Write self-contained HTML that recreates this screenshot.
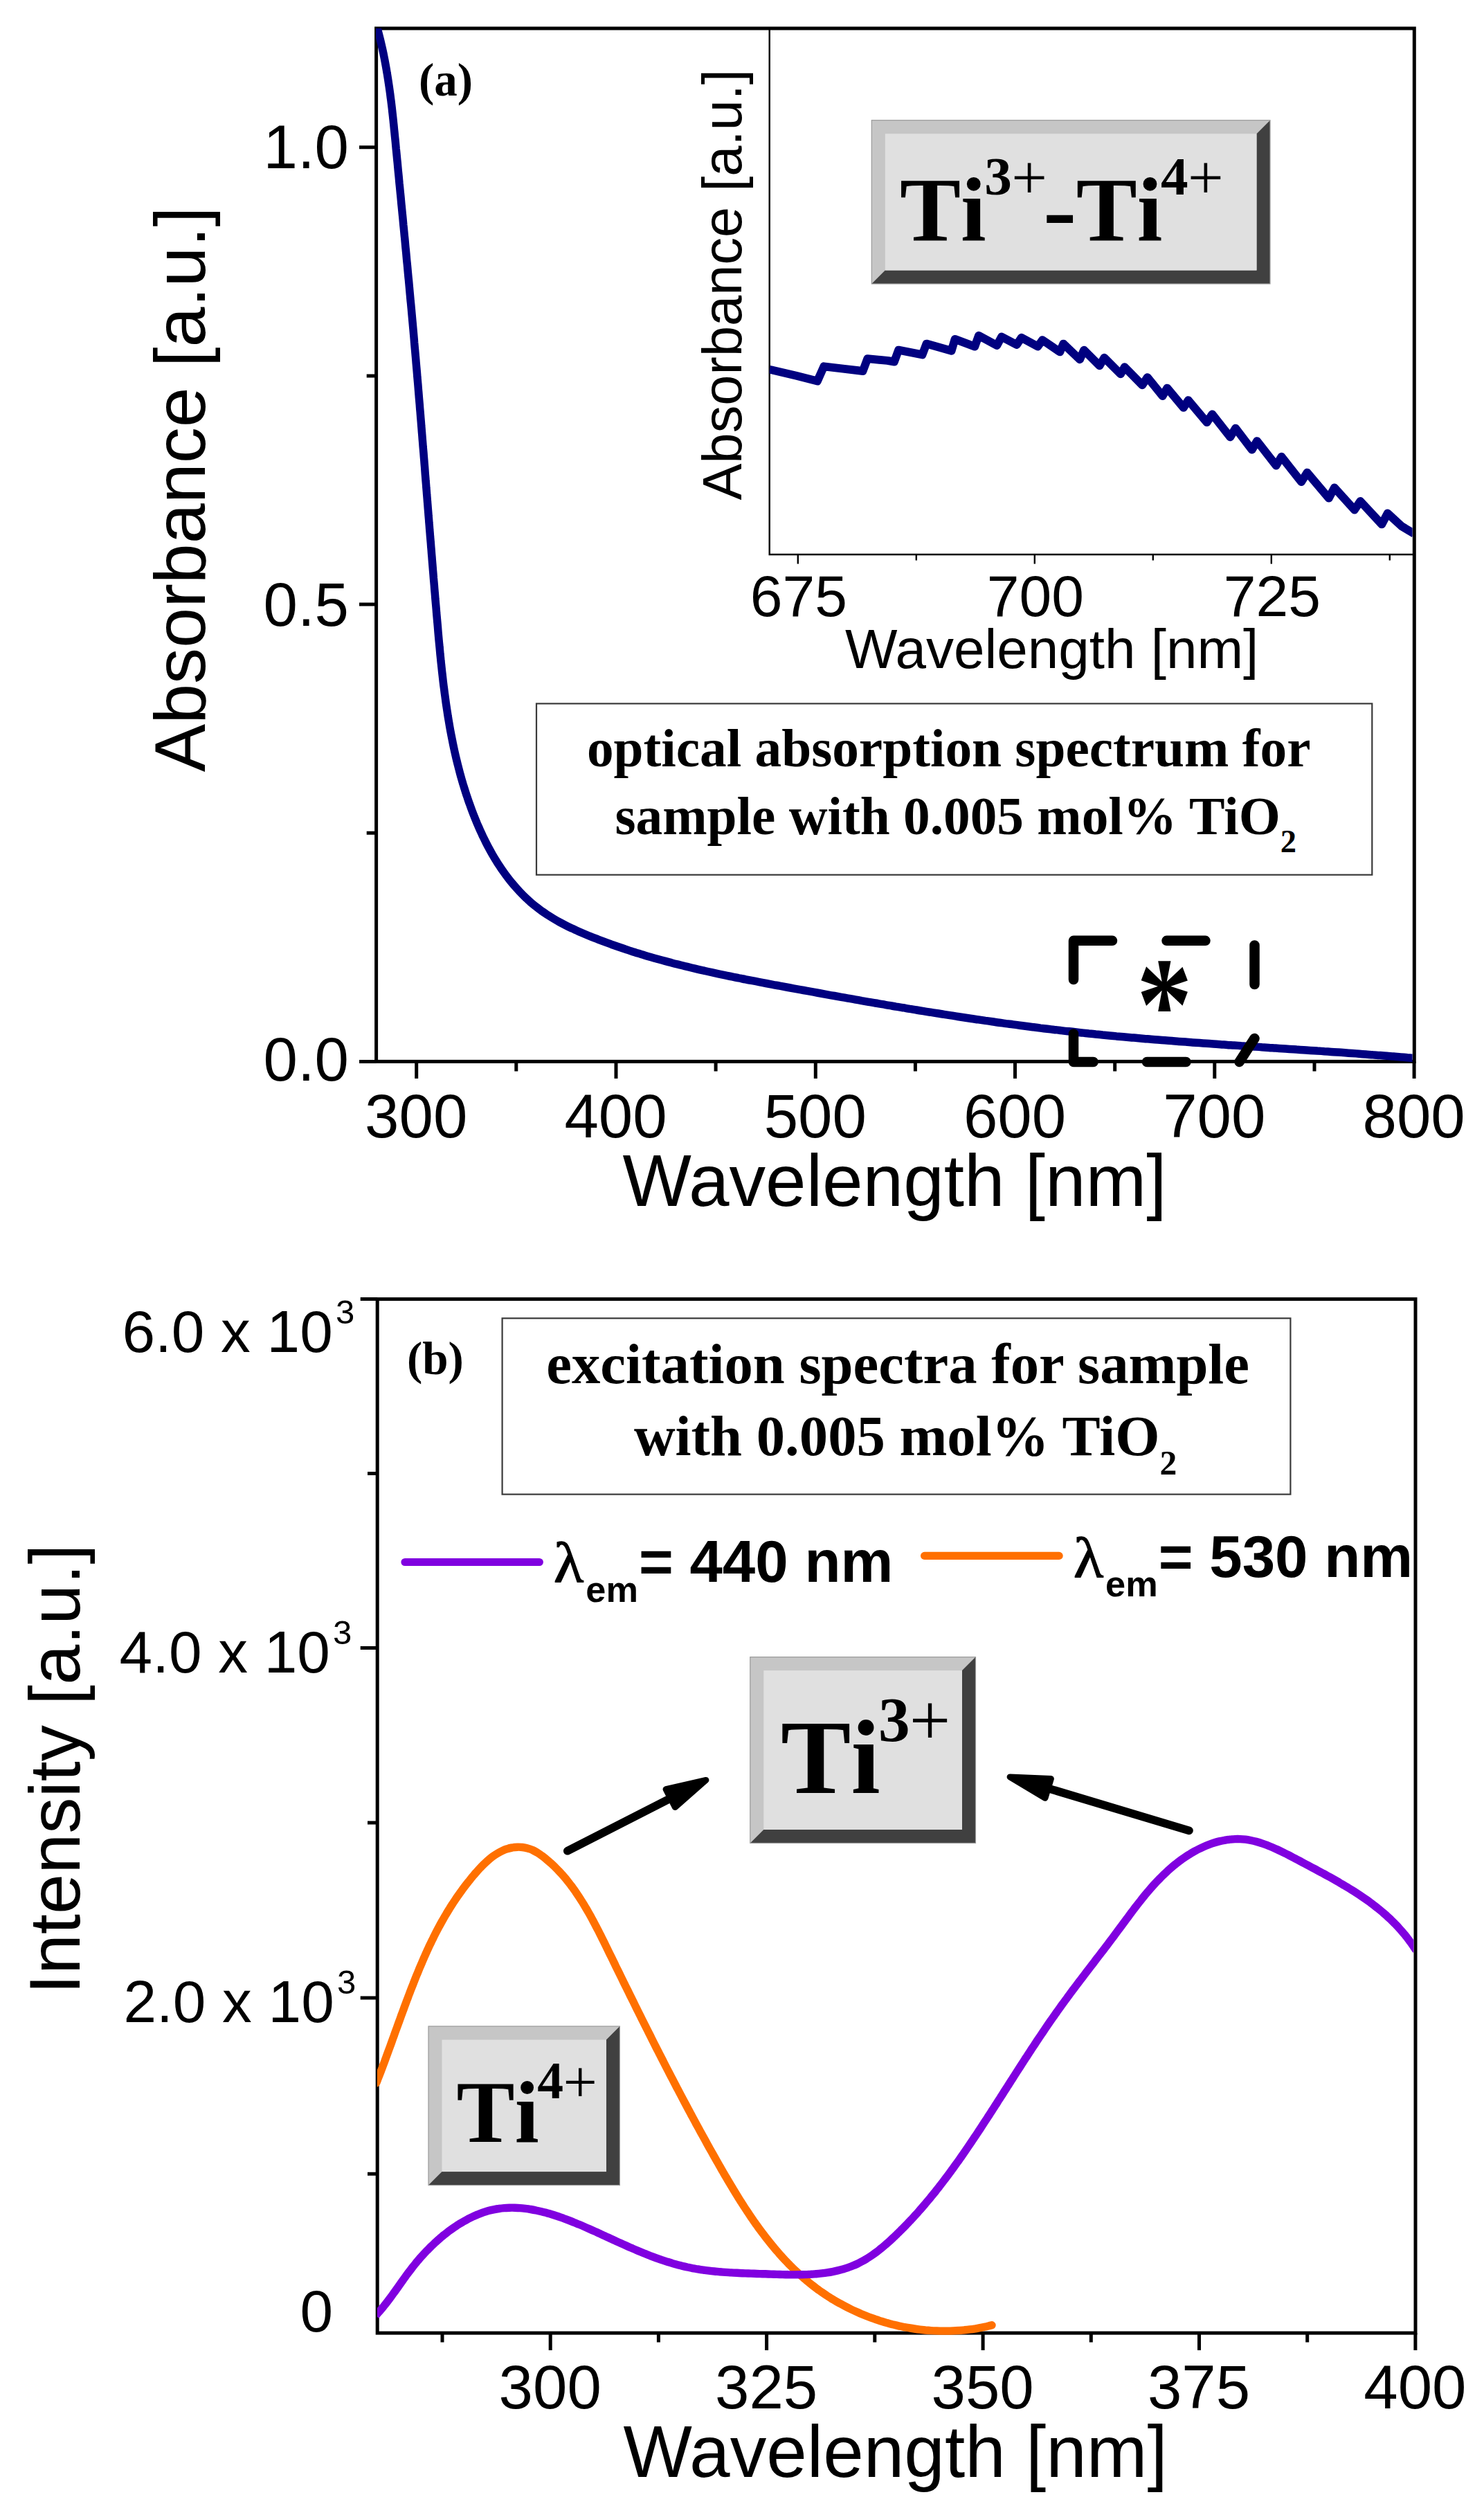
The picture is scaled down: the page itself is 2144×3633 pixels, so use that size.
<!DOCTYPE html>
<html lang="en"><head><meta charset="utf-8"><title>Optical absorption and excitation spectra</title>
<style>html,body{margin:0;padding:0;background:#fff}svg{display:block}text{fill:#000}.s{font-family:"Liberation Sans", Arial, Helvetica, sans-serif}.t{font-family:"Liberation Serif", "Times New Roman", Times, serif;font-weight:bold}.sb{font-family:"Liberation Sans", Arial, Helvetica, sans-serif;font-weight:bold}.nk{font-kerning:none}</style></head><body>
<svg width="2144" height="3633" viewBox="0 0 2144 3633">
<rect width="2144" height="3633" fill="#fff"/>
<rect x="543.6" y="41.0" width="1499.7" height="1492.4" fill="none" stroke="#000" stroke-width="5.0"/>
<path d="M601.7 1533.4 V1558.0M890.0 1533.4 V1558.0M1178.3 1533.4 V1558.0M1466.5 1533.4 V1558.0M1754.8 1533.4 V1558.0M2043.1 1533.4 V1558.0M745.8 1533.4 V1547.6M1034.1 1533.4 V1547.6M1322.4 1533.4 V1547.6M1610.7 1533.4 V1547.6M1899.0 1533.4 V1547.6M543.6 1533.4 H519.0M543.6 873.1 H519.0M543.6 212.7 H519.0M543.6 1203.2 H529.7M543.6 542.9 H529.7" stroke="#000" stroke-width="5" fill="none"/>
<clipPath id="ca"><rect x="543.1" y="41.0" width="1497.5" height="1495.1"/></clipPath>
<path d="M541.1 27.0C541.5 28.6 543.0 33.5 543.9 36.7C544.9 39.9 545.8 43.2 546.6 46.4C547.5 49.7 548.3 52.9 549.1 56.2C549.9 59.4 550.7 62.7 551.4 66.0C552.2 69.2 552.9 72.5 553.6 75.8C554.3 79.0 554.9 82.3 555.6 85.6C556.2 88.9 556.8 92.2 557.4 95.4C558.0 98.7 558.6 102.0 559.1 105.3C559.7 108.6 560.2 111.9 560.7 115.2C561.2 118.5 561.7 121.8 562.2 125.1C562.7 128.4 563.1 131.7 563.6 135.0C564.0 138.4 564.4 141.7 564.9 145.0C565.3 148.3 565.7 151.6 566.1 154.9C566.5 158.3 566.8 161.6 567.2 164.9C567.6 168.2 567.9 171.6 568.3 174.9C568.6 178.2 569.0 181.5 569.3 184.9C569.6 188.2 570.0 191.5 570.3 194.9C570.6 198.2 571.0 201.5 571.3 204.8C571.6 208.2 571.9 211.5 572.2 214.8C572.6 218.2 572.9 221.5 573.2 224.8C573.5 228.2 573.8 231.5 574.2 234.8C574.5 238.2 574.8 241.5 575.1 244.8C575.4 248.2 575.8 251.5 576.1 254.8C576.4 258.2 576.7 261.5 577.0 264.8C577.4 268.2 577.7 271.5 578.0 274.8C578.3 278.2 578.7 281.5 579.0 284.8C579.3 288.2 579.6 291.5 579.9 294.8C580.3 298.2 580.6 301.5 580.9 304.8C581.2 308.2 581.6 311.5 581.9 314.8C582.2 318.2 582.5 321.5 582.8 324.8C583.2 328.2 583.5 331.5 583.8 334.8C584.1 338.2 584.4 341.5 584.8 344.8C585.1 348.2 585.4 351.5 585.7 354.9C586.0 358.2 586.4 361.5 586.7 364.9C587.0 368.2 587.3 371.5 587.6 374.9C587.9 378.2 588.3 381.5 588.6 384.9C588.9 388.2 589.2 391.5 589.5 394.9C589.8 398.2 590.1 401.5 590.5 404.9C590.8 408.2 591.1 411.5 591.4 414.9C591.7 418.2 592.0 421.5 592.3 424.9C592.6 428.2 592.9 431.5 593.2 434.9C593.6 438.2 593.9 441.5 594.2 444.9C594.5 448.2 594.8 451.5 595.1 454.9C595.4 458.2 595.7 461.5 596.0 464.9C596.3 468.2 596.6 471.5 596.9 474.9C597.2 478.2 597.5 481.5 597.8 484.9C598.1 488.2 598.4 491.5 598.6 494.9C598.9 498.2 599.2 501.5 599.5 504.9C599.8 508.2 600.1 511.5 600.4 514.9C600.7 518.2 601.0 521.5 601.2 524.8C601.5 528.2 601.8 531.5 602.1 534.8C602.4 538.2 602.7 541.5 602.9 544.8C603.2 548.2 603.5 551.5 603.8 554.8C604.1 558.2 604.3 561.5 604.6 564.8C604.9 568.2 605.2 571.5 605.4 574.8C605.7 578.2 606.0 581.5 606.3 584.8C606.5 588.2 606.8 591.5 607.1 594.8C607.4 598.1 607.6 601.5 607.9 604.8C608.2 608.1 608.5 611.5 608.7 614.8C609.0 618.1 609.3 621.5 609.5 624.8C609.8 628.1 610.1 631.5 610.3 634.8C610.6 638.1 610.9 641.5 611.1 644.8C611.4 648.1 611.7 651.5 612.0 654.8C612.2 658.1 612.5 661.5 612.8 664.8C613.0 668.1 613.3 671.5 613.6 674.8C613.8 678.1 614.1 681.5 614.3 684.8C614.6 688.1 614.9 691.5 615.1 694.8C615.4 698.1 615.7 701.5 615.9 704.8C616.2 708.1 616.5 711.5 616.7 714.8C617.0 718.1 617.3 721.5 617.5 724.8C617.8 728.1 618.1 731.5 618.3 734.8C618.6 738.1 618.9 741.5 619.1 744.8C619.4 748.1 619.7 751.5 619.9 754.8C620.2 758.1 620.5 761.5 620.7 764.8C621.0 768.1 621.3 771.5 621.5 774.8C621.8 778.2 622.1 781.5 622.4 784.8C622.6 788.2 622.9 791.5 623.2 794.8C623.4 798.2 623.7 801.5 624.0 804.8C624.2 808.2 624.5 811.5 624.8 814.9C625.1 818.2 625.3 821.5 625.6 824.9C625.9 828.2 626.2 831.6 626.4 834.9C626.7 838.2 627.0 841.6 627.3 844.9C627.5 848.3 627.8 851.6 628.1 854.9C628.4 858.3 628.7 861.6 628.9 865.0C629.2 868.3 629.5 871.6 629.8 875.0C630.1 878.3 630.4 881.7 630.6 885.0C630.9 888.3 631.2 891.7 631.5 895.0C631.8 898.4 632.1 901.7 632.4 905.1C632.7 908.4 632.9 911.8 633.2 915.1C633.5 918.4 633.8 921.8 634.1 925.1C634.4 928.5 634.8 931.8 635.1 935.2C635.4 938.5 635.7 941.8 636.0 945.2C636.4 948.5 636.7 951.9 637.0 955.2C637.4 958.5 637.7 961.9 638.1 965.2C638.4 968.5 638.8 971.9 639.2 975.2C639.6 978.5 639.9 981.9 640.3 985.2C640.7 988.5 641.1 991.8 641.6 995.2C642.0 998.5 642.4 1001.8 642.9 1005.1C643.3 1008.4 643.8 1011.8 644.2 1015.1C644.7 1018.4 645.2 1021.7 645.7 1025.0C646.2 1028.3 646.7 1031.6 647.2 1034.9C647.8 1038.2 648.3 1041.5 648.9 1044.8C649.4 1048.1 650.0 1051.4 650.6 1054.7C651.2 1057.9 651.8 1061.2 652.5 1064.5C653.1 1067.8 653.8 1071.0 654.4 1074.3C655.1 1077.6 655.8 1080.8 656.5 1084.1C657.2 1087.4 658.0 1090.6 658.7 1093.9C659.5 1097.1 660.3 1100.4 661.1 1103.6C661.9 1106.8 662.7 1110.1 663.6 1113.3C664.4 1116.5 665.3 1119.7 666.2 1123.0C667.1 1126.2 668.1 1129.4 669.0 1132.6C670.0 1135.8 671.0 1139.0 672.0 1142.2C673.0 1145.4 674.0 1148.6 675.1 1151.7C676.2 1154.9 677.2 1158.1 678.4 1161.2C679.5 1164.4 680.7 1167.6 681.8 1170.7C683.0 1173.9 684.2 1177.0 685.5 1180.2C686.7 1183.3 688.0 1186.4 689.3 1189.5C690.7 1192.6 692.0 1195.7 693.4 1198.8C694.8 1201.9 696.2 1204.9 697.6 1208.0C699.1 1211.0 700.6 1214.1 702.1 1217.1C703.6 1220.1 705.2 1223.0 706.8 1226.0C708.4 1229.0 710.0 1231.9 711.7 1234.8C713.4 1237.7 715.1 1240.6 716.9 1243.4C718.6 1246.2 720.4 1249.1 722.3 1251.8C724.1 1254.6 726.0 1257.3 727.9 1260.0C729.8 1262.8 731.8 1265.4 733.8 1268.0C735.8 1270.7 737.9 1273.3 740.0 1275.8C742.1 1278.3 744.3 1280.8 746.5 1283.3C748.7 1285.8 750.9 1288.2 753.2 1290.5C755.5 1292.9 757.8 1295.2 760.2 1297.4C762.6 1299.7 765.0 1301.9 767.5 1304.1C770.0 1306.2 772.6 1308.3 775.2 1310.3C777.8 1312.4 780.4 1314.3 783.1 1316.3C785.8 1318.2 788.6 1320.0 791.3 1321.8C794.1 1323.6 797.0 1325.4 799.9 1327.1C802.7 1328.8 805.7 1330.5 808.6 1332.1C811.6 1333.7 814.5 1335.2 817.6 1336.8C820.6 1338.3 823.6 1339.8 826.7 1341.2C829.7 1342.7 832.8 1344.1 835.9 1345.5C839.0 1346.8 842.2 1348.2 845.3 1349.5C848.4 1350.8 851.6 1352.1 854.7 1353.4C857.9 1354.6 861.1 1355.9 864.2 1357.1C867.4 1358.3 870.6 1359.5 873.7 1360.7C876.9 1361.9 880.1 1363.0 883.3 1364.2C886.4 1365.3 889.6 1366.4 892.8 1367.5C896.0 1368.6 899.2 1369.7 902.4 1370.8C905.6 1371.8 908.8 1372.9 912.0 1373.9C915.2 1374.9 918.4 1376.0 921.6 1377.0C924.8 1378.0 928.0 1378.9 931.2 1379.9C934.4 1380.9 937.6 1381.8 940.8 1382.7C944.1 1383.7 947.3 1384.6 950.5 1385.5C953.7 1386.4 956.9 1387.3 960.2 1388.1C963.4 1389.0 966.6 1389.9 969.9 1390.7C973.1 1391.6 976.3 1392.4 979.6 1393.2C982.8 1394.0 986.0 1394.9 989.3 1395.7C992.5 1396.4 995.8 1397.2 999.0 1398.0C1002.3 1398.8 1005.5 1399.5 1008.8 1400.3C1012.0 1401.1 1015.3 1401.8 1018.5 1402.5C1021.8 1403.3 1025.0 1404.0 1028.3 1404.7C1031.5 1405.4 1034.8 1406.1 1038.1 1406.8C1041.3 1407.5 1044.6 1408.2 1047.9 1408.9C1051.1 1409.6 1054.4 1410.2 1057.7 1410.9C1060.9 1411.6 1064.2 1412.2 1067.5 1412.9C1070.7 1413.5 1074.0 1414.2 1077.3 1414.8C1080.6 1415.5 1083.8 1416.1 1087.1 1416.7C1090.4 1417.4 1093.7 1418.0 1097.0 1418.6C1100.2 1419.3 1103.5 1419.9 1106.8 1420.5C1110.1 1421.1 1113.4 1421.7 1116.6 1422.3C1119.9 1422.9 1123.2 1423.6 1126.5 1424.2C1129.8 1424.8 1133.1 1425.4 1136.3 1426.0C1139.6 1426.6 1142.9 1427.2 1146.2 1427.8C1149.5 1428.4 1152.8 1429.0 1156.1 1429.6C1159.4 1430.2 1162.6 1430.8 1165.9 1431.4C1169.2 1432.0 1172.5 1432.6 1175.8 1433.2C1179.1 1433.8 1182.4 1434.4 1185.7 1435.0C1189.0 1435.6 1192.3 1436.2 1195.6 1436.8C1198.8 1437.4 1202.1 1438.0 1205.4 1438.5C1208.7 1439.1 1212.0 1439.7 1215.3 1440.3C1218.6 1440.9 1221.9 1441.5 1225.2 1442.1C1228.5 1442.7 1231.8 1443.2 1235.1 1443.8C1238.4 1444.4 1241.7 1445.0 1245.0 1445.6C1248.3 1446.1 1251.6 1446.7 1254.9 1447.3C1258.2 1447.9 1261.5 1448.4 1264.8 1449.0C1268.1 1449.6 1271.4 1450.1 1274.7 1450.7C1278.0 1451.3 1281.3 1451.8 1284.6 1452.4C1287.9 1453.0 1291.2 1453.5 1294.5 1454.1C1297.8 1454.6 1301.1 1455.2 1304.4 1455.7C1307.7 1456.3 1311.0 1456.8 1314.3 1457.4C1317.6 1457.9 1320.9 1458.5 1324.3 1459.0C1327.6 1459.6 1330.9 1460.1 1334.2 1460.6C1337.5 1461.2 1340.8 1461.7 1344.1 1462.2C1347.4 1462.8 1350.7 1463.3 1354.0 1463.8C1357.3 1464.3 1360.6 1464.9 1364.0 1465.4C1367.3 1465.9 1370.6 1466.4 1373.9 1466.9C1377.2 1467.4 1380.5 1468.0 1383.8 1468.5C1387.1 1469.0 1390.4 1469.5 1393.8 1470.0C1397.1 1470.5 1400.4 1471.0 1403.7 1471.5C1407.0 1472.0 1410.3 1472.4 1413.6 1472.9C1417.0 1473.4 1420.3 1473.9 1423.6 1474.4C1426.9 1474.8 1430.2 1475.3 1433.5 1475.8C1436.9 1476.3 1440.2 1476.7 1443.5 1477.2C1446.8 1477.7 1450.1 1478.1 1453.4 1478.6C1456.8 1479.0 1460.1 1479.5 1463.4 1479.9C1466.7 1480.4 1470.0 1480.8 1473.4 1481.2C1476.7 1481.7 1480.0 1482.1 1483.3 1482.5C1486.6 1483.0 1490.0 1483.4 1493.3 1483.8C1496.6 1484.2 1499.9 1484.6 1503.3 1485.1C1506.6 1485.5 1509.9 1485.9 1513.2 1486.3C1516.5 1486.7 1519.9 1487.1 1523.2 1487.5C1526.5 1487.8 1529.8 1488.2 1533.2 1488.6C1536.5 1489.0 1539.8 1489.4 1543.1 1489.7C1546.5 1490.1 1549.8 1490.5 1553.1 1490.8C1556.4 1491.2 1559.8 1491.6 1563.1 1491.9C1566.4 1492.3 1569.7 1492.6 1573.1 1493.0C1576.4 1493.3 1579.7 1493.6 1583.1 1494.0C1586.4 1494.3 1589.7 1494.6 1593.0 1495.0C1596.4 1495.3 1599.7 1495.6 1603.0 1495.9C1606.4 1496.2 1609.7 1496.5 1613.0 1496.9C1616.4 1497.2 1619.7 1497.5 1623.0 1497.8C1626.3 1498.1 1629.7 1498.4 1633.0 1498.7C1636.3 1499.0 1639.7 1499.2 1643.0 1499.5C1646.3 1499.8 1649.7 1500.1 1653.0 1500.4C1656.3 1500.7 1659.7 1500.9 1663.0 1501.2C1666.3 1501.5 1669.7 1501.8 1673.0 1502.0C1676.3 1502.3 1679.7 1502.6 1683.0 1502.8C1686.3 1503.1 1689.7 1503.4 1693.0 1503.6C1696.3 1503.9 1699.7 1504.1 1703.0 1504.4C1706.3 1504.6 1709.7 1504.9 1713.0 1505.1C1716.3 1505.4 1719.7 1505.6 1723.0 1505.9C1726.3 1506.1 1729.7 1506.4 1733.0 1506.6C1736.3 1506.8 1739.7 1507.1 1743.0 1507.3C1746.4 1507.6 1749.7 1507.8 1753.0 1508.0C1756.4 1508.3 1759.7 1508.5 1763.0 1508.7C1766.4 1508.9 1769.7 1509.2 1773.0 1509.4C1776.4 1509.6 1779.7 1509.9 1783.1 1510.1C1786.4 1510.3 1789.7 1510.5 1793.1 1510.8C1796.4 1511.0 1799.7 1511.2 1803.1 1511.4C1806.4 1511.7 1809.8 1511.9 1813.1 1512.1C1816.4 1512.3 1819.8 1512.5 1823.1 1512.8C1826.5 1513.0 1829.8 1513.2 1833.1 1513.4C1836.5 1513.6 1839.8 1513.9 1843.1 1514.1C1846.5 1514.3 1849.8 1514.5 1853.2 1514.7C1856.5 1515.0 1859.8 1515.2 1863.2 1515.4C1866.5 1515.6 1869.9 1515.8 1873.2 1516.1C1876.5 1516.3 1879.9 1516.5 1883.2 1516.7C1886.6 1517.0 1889.9 1517.2 1893.2 1517.4C1896.6 1517.6 1899.9 1517.8 1903.3 1518.1C1906.6 1518.3 1909.9 1518.5 1913.3 1518.8C1916.6 1519.0 1920.0 1519.2 1923.3 1519.4C1926.6 1519.7 1930.0 1519.9 1933.3 1520.1C1936.7 1520.4 1940.0 1520.6 1943.3 1520.8C1946.7 1521.1 1950.0 1521.3 1953.4 1521.6C1956.7 1521.8 1960.0 1522.0 1963.4 1522.3C1966.7 1522.5 1970.1 1522.8 1973.4 1523.0C1976.7 1523.3 1980.1 1523.5 1983.4 1523.8C1986.8 1524.0 1990.1 1524.3 1993.4 1524.5C1996.8 1524.8 2000.1 1525.1 2003.5 1525.3C2006.8 1525.6 2010.1 1525.8 2013.5 1526.1C2016.8 1526.4 2020.2 1526.6 2023.5 1526.9C2026.8 1527.2 2030.2 1527.5 2033.5 1527.8C2036.9 1528.0 2041.9 1528.5 2043.5 1528.6" fill="none" stroke="#000080" stroke-width="11.5" stroke-linejoin="round" clip-path="url(#ca)"/>
<g class="s" font-size="88.8" text-anchor="middle">
<text x="601.2" y="1642.5">300</text>
<text x="889.5" y="1642.5">400</text>
<text x="1177.8" y="1642.5">500</text>
<text x="1466.0" y="1642.5">600</text>
<text x="1754.3" y="1642.5">700</text>
<text x="2042.6" y="1642.5">800</text>
</g>
<g class="s" font-size="88.8" text-anchor="end">
<text x="504" y="1560.9">0.0</text>
<text x="504" y="903.6">0.5</text>
<text x="504" y="243.2">1.0</text>
</g>
<text class="s" font-size="105.3" text-anchor="middle" x="1292.5" y="1742.2">Wavelength [nm]</text>
<text class="s" font-size="104.2" text-anchor="middle" transform="translate(296.3 707) rotate(-90)">Absorbance [a.u.]</text>
<text class="t" font-size="67" x="605" y="138">(a)</text>
<path d="M1111.7 41.0 V801.0 H2043.3" fill="none" stroke="#000" stroke-width="2.4"/>
<path d="M1152.8 801.0 V814.6M1494.8 801.0 V814.6M1836.8 801.0 V814.6M1323.8 801.0 V809.5M1665.8 801.0 V809.5M2007.8 801.0 V809.5" stroke="#000" stroke-width="2.4" fill="none"/>
<g class="s" font-size="84" text-anchor="middle">
<text x="1153.8" y="889.5">675</text>
<text x="1495.8" y="889.5">700</text>
<text x="1837.8" y="889.5">725</text>
</g>
<text class="s" font-size="80" text-anchor="middle" x="1519.7" y="964.5">Wavelength [nm]</text>
<text class="s" font-size="79.4" text-anchor="middle" transform="translate(1070.5 411.3) rotate(-90)">Absorbance [a.u.]</text>
<clipPath id="ci"><rect x="1111.7" y="41.0" width="928.9" height="760.0"/></clipPath>
<path d="M1111.8 533.7L1150.5 542.8L1180.9 550.5L1190.3 529.3L1217.9 532.7L1246.6 536.0L1253.3 518.2L1281.9 520.9L1292.0 522.5L1298.1 505.7L1332.5 512.4L1338.5 496.6L1374.6 506.7L1379.6 489.9L1408.3 500.6L1414.0 484.8L1440.3 499.0L1447.0 486.5L1468.9 498.0L1475.7 487.8L1499.3 500.6L1506.0 491.2L1531.3 508.4L1536.3 496.6L1560.0 519.2L1566.1 505.7L1588.6 528.3L1595.4 516.8L1619.0 540.4L1624.7 530.3L1650.3 556.2L1657.7 545.1L1679.6 572.1L1686.3 560.6L1709.9 588.9L1716.7 578.1L1743.6 610.1L1751.4 598.4L1777.3 631.4L1785.1 618.6L1808.7 649.6L1816.1 637.1L1843.7 672.5L1851.4 659.7L1880.1 696.1L1888.5 682.6L1919.8 719.6L1927.9 704.5L1956.9 736.5L1965.3 724.0L1996.3 757.4L2004.7 741.5L2025.0 760.1L2043.0 771.0" fill="none" stroke="#000080" stroke-width="11.9" stroke-linejoin="round" stroke-linecap="butt" clip-path="url(#ci)"/>
<rect x="1259.3" y="173.7" width="575.7" height="236.3" fill="#c6c6c6"/><path d="M1259.3 410.0L1278.8 390.5L1815.5 390.5L1815.5 193.2L1835.0 173.7L1835.0 410.0Z" fill="#404040"/><rect x="1278.8" y="193.2" width="536.7" height="197.3" fill="#e0e0e0"/><rect x="1259.3" y="173.7" width="575.7" height="236.3" fill="none" stroke="#9a9a9a" stroke-width="1.2"/>
<text class="t nk" font-size="132.0" x="1300.0" y="346.6">Ti</text><text class="t" font-size="79.2" x="1422.2" y="281.1">3</text><text font-family="Liberation Serif, Times New Roman, Times, serif" font-weight="normal" font-size="91.7" x="1461.2" y="286.8">+</text>
<text class="t" font-size="132" transform="translate(1507.1 346.6) scale(1.1 1)">-</text>
<text class="t nk" font-size="132.0" x="1554.8" y="346.6">Ti</text><text class="t" font-size="79.2" x="1677.0" y="281.1">4</text><text font-family="Liberation Serif, Times New Roman, Times, serif" font-weight="normal" font-size="91.7" x="1716.0" y="286.8">+</text>
<rect x="775" y="1016.4" width="1207.3" height="247.3" fill="#fff" stroke="#3a3a3a" stroke-width="2.2"/>
<text class="t" font-size="77.3" x="847.9" y="1107.3">optical absorption spectrum for</text>
<text class="t" font-size="77.3" x="888.5" y="1204.9">sample with 0.005 mol% TiO<tspan font-size="46.5" dy="26.4">2</tspan></text>
<path d="M1551 1415V1358.8H1607M1685.5 1358.8H1741.5M1812.5 1365.5V1422M1812.5 1500L1790.5 1534M1713.5 1534H1657M1579.6 1534H1551V1493.4" fill="none" stroke="#000" stroke-width="14.5" stroke-linecap="round" stroke-linejoin="round"/>
<text class="t" font-size="192" text-anchor="middle" transform="translate(1682.4 1515.7) scale(0.84 1)">*</text>
<rect x="545.2" y="1876.6" width="1499.8" height="1493.5" fill="none" stroke="#000" stroke-width="5.0"/>
<path d="M795.2 3370.1V3395.0M1107.6 3370.1V3395.0M1420.1 3370.1V3395.0M1732.5 3370.1V3395.0M2044.9 3370.1V3395.0M639.0 3370.1V3383.6M951.4 3370.1V3383.6M1263.8 3370.1V3383.6M1576.3 3370.1V3383.6M1888.7 3370.1V3383.6M545.2 1876.6H520.7M545.2 2380.5H520.7M545.2 2886.0H520.7M545.2 2128.5H531.0M545.2 2633.0H531.0M545.2 3140.2H531.0" stroke="#000" stroke-width="5" fill="none"/>
<clipPath id="cb"><rect x="544.9" y="1876.6" width="1497.5" height="1496.2"/></clipPath>
<path d="M543.8 3008.9C544.2 3007.6 545.7 3004.0 546.6 3001.6C547.6 2999.1 548.5 2996.7 549.5 2994.2C550.4 2991.7 551.3 2989.3 552.3 2986.8C553.2 2984.3 554.1 2981.8 555.1 2979.3C556.0 2976.9 556.9 2974.4 557.8 2971.8C558.8 2969.3 559.7 2966.8 560.6 2964.3C561.5 2961.8 562.4 2959.3 563.4 2956.7C564.3 2954.2 565.2 2951.7 566.1 2949.2C567.0 2946.6 567.9 2944.1 568.9 2941.5C569.8 2939.0 570.7 2936.4 571.6 2933.9C572.5 2931.4 573.5 2928.8 574.4 2926.3C575.3 2923.7 576.2 2921.2 577.2 2918.6C578.1 2916.1 579.0 2913.5 579.9 2911.0C580.9 2908.4 581.8 2905.9 582.8 2903.3C583.7 2900.8 584.6 2898.2 585.6 2895.7C586.5 2893.1 587.5 2890.6 588.4 2888.1C589.4 2885.5 590.3 2883.0 591.3 2880.5C592.3 2877.9 593.2 2875.4 594.2 2872.9C595.2 2870.4 596.2 2867.8 597.2 2865.3C598.1 2862.8 599.1 2860.3 600.1 2857.8C601.1 2855.3 602.1 2852.8 603.2 2850.4C604.2 2847.9 605.2 2845.4 606.2 2842.9C607.3 2840.5 608.3 2838.0 609.4 2835.6C610.4 2833.1 611.5 2830.7 612.5 2828.3C613.6 2825.8 614.7 2823.4 615.7 2821.0C616.8 2818.6 617.9 2816.2 619.0 2813.8C620.1 2811.4 621.3 2809.0 622.4 2806.7C623.5 2804.3 624.7 2801.9 625.9 2799.6C627.0 2797.2 628.2 2794.9 629.4 2792.5C630.6 2790.2 631.8 2787.9 633.0 2785.6C634.3 2783.2 635.5 2780.9 636.8 2778.6C638.1 2776.3 639.4 2774.0 640.7 2771.7C642.0 2769.4 643.3 2767.2 644.7 2764.9C646.0 2762.6 647.4 2760.3 648.8 2758.1C650.2 2755.8 651.6 2753.5 653.1 2751.3C654.5 2749.0 656.0 2746.8 657.5 2744.6C659.0 2742.3 660.5 2740.1 662.1 2737.9C663.7 2735.6 665.2 2733.4 666.9 2731.2C668.5 2729.0 670.1 2726.8 671.8 2724.6C673.5 2722.4 675.2 2720.2 676.9 2718.0C678.7 2715.8 680.4 2713.6 682.2 2711.4C684.1 2709.2 685.9 2707.0 687.8 2704.9C689.7 2702.7 691.6 2700.6 693.5 2698.5C695.5 2696.5 697.4 2694.4 699.5 2692.5C701.5 2690.5 703.5 2688.6 705.6 2686.8C707.7 2685.0 709.8 2683.3 712.0 2681.7C714.2 2680.1 716.4 2678.6 718.6 2677.3C720.9 2675.9 723.2 2674.7 725.5 2673.6C727.8 2672.5 730.2 2671.5 732.6 2670.8C735.0 2670.0 737.4 2669.4 739.9 2669.0C742.4 2668.5 744.9 2668.3 747.4 2668.2C749.9 2668.1 752.4 2668.2 754.9 2668.5C757.4 2668.8 759.9 2669.3 762.3 2670.0C764.7 2670.6 767.2 2671.5 769.5 2672.5C771.8 2673.6 774.1 2674.9 776.4 2676.2C778.6 2677.6 780.8 2679.1 782.9 2680.7C785.1 2682.3 787.2 2684.0 789.2 2685.7C791.3 2687.4 793.3 2689.1 795.3 2690.9C797.3 2692.6 799.2 2694.5 801.1 2696.3C803.0 2698.2 804.9 2700.0 806.7 2702.0C808.5 2703.9 810.3 2705.8 812.1 2707.8C813.8 2709.8 815.6 2711.8 817.3 2713.8C818.9 2715.9 820.6 2718.0 822.2 2720.0C823.9 2722.1 825.5 2724.3 827.1 2726.4C828.6 2728.6 830.2 2730.7 831.7 2732.9C833.2 2735.1 834.7 2737.3 836.2 2739.6C837.7 2741.8 839.1 2744.1 840.5 2746.4C842.0 2748.6 843.4 2750.9 844.8 2753.3C846.2 2755.6 847.5 2757.9 848.9 2760.2C850.2 2762.6 851.6 2764.9 852.9 2767.3C854.2 2769.7 855.5 2772.1 856.8 2774.5C858.1 2776.9 859.3 2779.3 860.6 2781.7C861.9 2784.1 863.1 2786.5 864.4 2788.9C865.6 2791.4 866.8 2793.8 868.1 2796.2C869.3 2798.7 870.5 2801.1 871.7 2803.6C872.9 2806.0 874.1 2808.4 875.3 2810.9C876.5 2813.3 877.7 2815.8 878.9 2818.2C880.1 2820.7 881.3 2823.1 882.5 2825.6C883.7 2828.0 884.9 2830.4 886.1 2832.9C887.3 2835.3 888.5 2837.7 889.6 2840.2C890.8 2842.6 892.0 2845.0 893.2 2847.4C894.4 2849.9 895.6 2852.3 896.8 2854.7C898.0 2857.1 899.2 2859.5 900.3 2862.0C901.5 2864.4 902.7 2866.8 903.9 2869.2C905.1 2871.6 906.3 2874.0 907.5 2876.4C908.6 2878.8 909.8 2881.2 911.0 2883.6C912.2 2886.0 913.4 2888.4 914.6 2890.8C915.8 2893.2 916.9 2895.6 918.1 2898.0C919.3 2900.4 920.5 2902.8 921.7 2905.2C922.9 2907.6 924.1 2910.0 925.3 2912.3C926.4 2914.7 927.6 2917.1 928.8 2919.5C930.0 2921.9 931.2 2924.3 932.4 2926.6C933.6 2929.0 934.8 2931.4 936.0 2933.8C937.2 2936.2 938.4 2938.5 939.6 2940.9C940.8 2943.3 941.9 2945.6 943.1 2948.0C944.3 2950.4 945.5 2952.8 946.7 2955.1C947.9 2957.5 949.1 2959.9 950.3 2962.2C951.5 2964.6 952.8 2967.0 954.0 2969.3C955.2 2971.7 956.4 2974.0 957.6 2976.4C958.8 2978.8 960.0 2981.1 961.2 2983.5C962.4 2985.9 963.6 2988.2 964.9 2990.6C966.1 2992.9 967.3 2995.3 968.5 2997.6C969.7 3000.0 971.0 3002.4 972.2 3004.7C973.4 3007.1 974.6 3009.4 975.9 3011.8C977.1 3014.1 978.3 3016.5 979.6 3018.8C980.8 3021.2 982.0 3023.5 983.3 3025.9C984.5 3028.2 985.8 3030.6 987.0 3032.9C988.3 3035.3 989.5 3037.6 990.8 3040.0C992.0 3042.3 993.3 3044.7 994.5 3047.0C995.8 3049.4 997.0 3051.7 998.3 3054.1C999.6 3056.4 1000.8 3058.8 1002.1 3061.1C1003.4 3063.5 1004.6 3065.8 1005.9 3068.2C1007.2 3070.5 1008.5 3072.9 1009.8 3075.2C1011.0 3077.6 1012.3 3079.9 1013.6 3082.3C1014.9 3084.6 1016.2 3087.0 1017.5 3089.3C1018.8 3091.7 1020.1 3094.0 1021.4 3096.4C1022.7 3098.7 1024.0 3101.1 1025.3 3103.5C1026.6 3105.8 1028.0 3108.2 1029.3 3110.5C1030.6 3112.9 1031.9 3115.2 1033.3 3117.6C1034.6 3119.9 1035.9 3122.3 1037.3 3124.6C1038.6 3127.0 1039.9 3129.3 1041.3 3131.7C1042.6 3134.1 1044.0 3136.4 1045.4 3138.8C1046.7 3141.1 1048.1 3143.5 1049.5 3145.8C1050.8 3148.2 1052.2 3150.5 1053.6 3152.8C1055.0 3155.2 1056.4 3157.5 1057.8 3159.8C1059.2 3162.2 1060.6 3164.5 1062.0 3166.8C1063.4 3169.1 1064.9 3171.5 1066.3 3173.8C1067.7 3176.1 1069.2 3178.4 1070.6 3180.7C1072.1 3183.0 1073.6 3185.2 1075.0 3187.5C1076.5 3189.8 1078.0 3192.1 1079.5 3194.3C1081.0 3196.6 1082.5 3198.8 1084.0 3201.1C1085.6 3203.3 1087.1 3205.6 1088.6 3207.8C1090.2 3210.0 1091.7 3212.2 1093.3 3214.4C1094.9 3216.6 1096.4 3218.8 1098.0 3220.9C1099.6 3223.1 1101.2 3225.3 1102.9 3227.4C1104.5 3229.6 1106.1 3231.7 1107.8 3233.8C1109.4 3235.9 1111.1 3238.0 1112.8 3240.1C1114.5 3242.2 1116.2 3244.3 1117.9 3246.3C1119.6 3248.4 1121.3 3250.4 1123.1 3252.4C1124.8 3254.4 1126.6 3256.4 1128.3 3258.4C1130.1 3260.4 1131.9 3262.3 1133.7 3264.3C1135.5 3266.2 1137.4 3268.2 1139.2 3270.1C1141.1 3272.0 1143.0 3273.8 1144.8 3275.7C1146.7 3277.6 1148.6 3279.4 1150.6 3281.2C1152.5 3283.0 1154.4 3284.8 1156.4 3286.6C1158.4 3288.4 1160.4 3290.1 1162.4 3291.8C1164.4 3293.6 1166.4 3295.3 1168.4 3296.9C1170.5 3298.6 1172.6 3300.3 1174.7 3301.9C1176.8 3303.5 1178.9 3305.1 1181.0 3306.7C1183.2 3308.2 1185.3 3309.8 1187.5 3311.3C1189.7 3312.8 1191.9 3314.3 1194.1 3315.8C1196.3 3317.2 1198.6 3318.6 1200.8 3320.1C1203.1 3321.5 1205.4 3322.8 1207.7 3324.2C1210.0 3325.5 1212.3 3326.8 1214.7 3328.1C1217.0 3329.4 1219.4 3330.7 1221.8 3331.9C1224.1 3333.1 1226.5 3334.3 1228.9 3335.5C1231.4 3336.7 1233.8 3337.8 1236.2 3338.9C1238.7 3340.0 1241.1 3341.1 1243.6 3342.2C1246.1 3343.2 1248.6 3344.2 1251.1 3345.2C1253.6 3346.2 1256.1 3347.2 1258.6 3348.1C1261.1 3349.0 1263.7 3349.9 1266.2 3350.8C1268.8 3351.6 1271.3 3352.5 1273.9 3353.3C1276.5 3354.1 1279.0 3354.8 1281.6 3355.6C1284.2 3356.3 1286.8 3357.0 1289.4 3357.7C1292.0 3358.3 1294.6 3359.0 1297.3 3359.6C1299.9 3360.2 1302.5 3360.7 1305.2 3361.3C1307.8 3361.8 1310.5 3362.3 1313.1 3362.7C1315.8 3363.2 1318.4 3363.6 1321.1 3364.0C1323.7 3364.4 1326.4 3364.8 1329.1 3365.1C1331.7 3365.4 1334.4 3365.7 1337.1 3366.0C1339.8 3366.2 1342.4 3366.4 1345.1 3366.6C1347.8 3366.8 1350.5 3366.9 1353.2 3367.0C1355.9 3367.1 1358.5 3367.2 1361.2 3367.2C1363.9 3367.3 1366.6 3367.3 1369.3 3367.2C1372.0 3367.2 1374.6 3367.1 1377.3 3367.0C1380.0 3366.9 1382.7 3366.7 1385.4 3366.5C1388.0 3366.3 1390.7 3366.1 1393.4 3365.8C1396.0 3365.6 1398.7 3365.3 1401.4 3364.9C1404.0 3364.6 1406.7 3364.2 1409.3 3363.8C1412.0 3363.3 1414.6 3362.9 1417.3 3362.4C1419.9 3361.9 1422.5 3361.3 1425.2 3360.7C1427.8 3360.1 1431.7 3359.2 1433.0 3358.8" fill="none" stroke="#ff7000" stroke-width="11.4" stroke-linejoin="round" stroke-linecap="round" clip-path="url(#cb)"/>
<path d="M542.9 3344.9C543.8 3343.9 546.6 3340.7 548.4 3338.7C550.2 3336.6 552.0 3334.5 553.7 3332.4C555.4 3330.3 557.0 3328.2 558.7 3326.1C560.3 3324.0 561.9 3321.9 563.5 3319.8C565.1 3317.7 566.6 3315.6 568.1 3313.4C569.7 3311.3 571.2 3309.2 572.7 3307.1C574.2 3305.0 575.7 3302.9 577.2 3300.7C578.7 3298.6 580.2 3296.5 581.7 3294.4C583.2 3292.3 584.7 3290.2 586.2 3288.1C587.8 3286.0 589.3 3283.9 590.9 3281.8C592.5 3279.7 594.1 3277.6 595.7 3275.5C597.3 3273.4 599.0 3271.3 600.7 3269.2C602.4 3267.2 604.1 3265.1 605.9 3263.0C607.7 3261.0 609.5 3258.9 611.4 3256.9C613.2 3254.9 615.1 3252.9 617.0 3250.9C619.0 3248.9 620.9 3246.9 622.9 3245.0C624.9 3243.0 627.0 3241.1 629.0 3239.2C631.1 3237.3 633.2 3235.4 635.3 3233.6C637.4 3231.8 639.6 3230.0 641.7 3228.2C643.9 3226.5 646.1 3224.8 648.3 3223.1C650.6 3221.4 652.8 3219.8 655.1 3218.2C657.4 3216.7 659.7 3215.1 662.0 3213.6C664.3 3212.2 666.6 3210.7 669.0 3209.4C671.4 3208.0 673.7 3206.7 676.1 3205.4C678.5 3204.2 681.0 3203.0 683.4 3201.9C685.8 3200.7 688.3 3199.7 690.7 3198.7C693.2 3197.7 695.6 3196.8 698.1 3195.9C700.6 3195.1 703.1 3194.3 705.6 3193.6C708.1 3192.9 710.6 3192.3 713.1 3191.8C715.6 3191.3 718.2 3190.8 720.7 3190.5C723.2 3190.1 725.8 3189.8 728.3 3189.6C730.9 3189.4 733.4 3189.3 736.0 3189.2C738.5 3189.1 741.1 3189.1 743.6 3189.2C746.2 3189.3 748.8 3189.4 751.4 3189.6C753.9 3189.8 756.5 3190.1 759.1 3190.4C761.7 3190.7 764.2 3191.1 766.8 3191.5C769.4 3191.9 772.0 3192.4 774.6 3193.0C777.2 3193.5 779.8 3194.1 782.4 3194.7C785.0 3195.3 787.5 3196.0 790.1 3196.7C792.7 3197.5 795.3 3198.2 797.9 3199.0C800.5 3199.8 803.1 3200.7 805.7 3201.5C808.3 3202.4 810.9 3203.3 813.5 3204.2C816.0 3205.2 818.6 3206.1 821.2 3207.1C823.8 3208.1 826.4 3209.1 828.9 3210.2C831.5 3211.2 834.1 3212.3 836.6 3213.3C839.2 3214.4 841.8 3215.5 844.3 3216.6C846.9 3217.7 849.4 3218.8 852.0 3220.0C854.5 3221.1 857.1 3222.3 859.6 3223.4C862.1 3224.5 864.6 3225.7 867.2 3226.8C869.7 3228.0 872.2 3229.2 874.7 3230.3C877.2 3231.5 879.7 3232.6 882.2 3233.8C884.7 3234.9 887.1 3236.0 889.6 3237.2C892.1 3238.3 894.5 3239.4 897.0 3240.5C899.4 3241.6 901.9 3242.7 904.3 3243.8C906.8 3244.9 909.2 3246.0 911.7 3247.1C914.1 3248.1 916.5 3249.2 919.0 3250.2C921.4 3251.2 923.8 3252.3 926.3 3253.3C928.7 3254.3 931.1 3255.3 933.6 3256.2C936.0 3257.2 938.4 3258.1 940.9 3259.1C943.3 3260.0 945.7 3260.9 948.2 3261.8C950.6 3262.7 953.1 3263.5 955.5 3264.4C958.0 3265.2 960.4 3266.0 962.9 3266.8C965.4 3267.6 967.8 3268.4 970.3 3269.1C972.8 3269.9 975.3 3270.6 977.8 3271.3C980.3 3271.9 982.8 3272.6 985.3 3273.2C987.9 3273.8 990.4 3274.4 993.0 3275.0C995.5 3275.5 998.1 3276.1 1000.6 3276.6C1003.2 3277.0 1005.8 3277.5 1008.4 3277.9C1011.0 3278.4 1013.6 3278.8 1016.3 3279.1C1018.9 3279.5 1021.5 3279.8 1024.2 3280.1C1026.8 3280.5 1029.5 3280.8 1032.2 3281.0C1034.8 3281.3 1037.5 3281.5 1040.2 3281.8C1042.9 3282.0 1045.6 3282.2 1048.3 3282.4C1051.0 3282.6 1053.7 3282.7 1056.4 3282.9C1059.2 3283.1 1061.9 3283.2 1064.6 3283.3C1067.3 3283.5 1070.1 3283.6 1072.8 3283.7C1075.6 3283.8 1078.3 3283.9 1081.1 3284.0C1083.8 3284.1 1086.6 3284.2 1089.3 3284.3C1092.1 3284.4 1094.8 3284.5 1097.6 3284.6C1100.3 3284.7 1103.1 3284.7 1105.9 3284.8C1108.6 3284.9 1111.4 3285.0 1114.1 3285.1C1116.9 3285.2 1119.6 3285.3 1122.4 3285.4C1125.1 3285.5 1127.9 3285.5 1130.6 3285.6C1133.4 3285.7 1136.1 3285.7 1138.9 3285.8C1141.6 3285.8 1144.3 3285.9 1147.0 3285.9C1149.8 3285.9 1152.5 3285.9 1155.2 3285.8C1157.9 3285.8 1160.6 3285.7 1163.3 3285.6C1166.0 3285.6 1168.7 3285.4 1171.3 3285.3C1174.0 3285.1 1176.6 3285.0 1179.3 3284.7C1181.9 3284.5 1184.6 3284.2 1187.2 3283.9C1189.8 3283.6 1192.4 3283.3 1195.0 3282.9C1197.6 3282.5 1200.1 3282.1 1202.7 3281.6C1205.3 3281.1 1207.8 3280.5 1210.3 3279.9C1212.8 3279.3 1215.3 3278.7 1217.8 3277.9C1220.3 3277.2 1222.8 3276.4 1225.2 3275.6C1227.6 3274.7 1230.1 3273.8 1232.5 3272.8C1234.8 3271.9 1237.2 3270.8 1239.6 3269.7C1241.9 3268.5 1244.2 3267.3 1246.6 3266.0C1248.9 3264.8 1251.1 3263.4 1253.4 3262.0C1255.6 3260.6 1257.9 3259.1 1260.1 3257.6C1262.3 3256.1 1264.5 3254.5 1266.7 3252.9C1268.8 3251.2 1271.0 3249.5 1273.1 3247.8C1275.2 3246.1 1277.3 3244.3 1279.4 3242.5C1281.5 3240.8 1283.5 3238.9 1285.6 3237.1C1287.6 3235.2 1289.6 3233.3 1291.6 3231.4C1293.6 3229.6 1295.6 3227.6 1297.6 3225.7C1299.6 3223.8 1301.5 3221.8 1303.4 3219.9C1305.4 3218.0 1307.3 3216.0 1309.2 3214.0C1311.1 3212.1 1312.9 3210.1 1314.8 3208.1C1316.7 3206.2 1318.5 3204.2 1320.3 3202.2C1322.1 3200.2 1324.0 3198.2 1325.8 3196.2C1327.6 3194.2 1329.3 3192.1 1331.1 3190.1C1332.9 3188.1 1334.6 3186.1 1336.4 3184.0C1338.1 3182.0 1339.8 3179.9 1341.5 3177.9C1343.2 3175.8 1344.9 3173.8 1346.6 3171.7C1348.3 3169.6 1350.0 3167.5 1351.7 3165.5C1353.3 3163.4 1355.0 3161.3 1356.6 3159.2C1358.2 3157.1 1359.9 3155.0 1361.5 3152.9C1363.1 3150.8 1364.7 3148.6 1366.3 3146.5C1367.9 3144.4 1369.5 3142.3 1371.1 3140.1C1372.7 3138.0 1374.2 3135.9 1375.8 3133.7C1377.4 3131.6 1378.9 3129.4 1380.5 3127.2C1382.0 3125.1 1383.6 3122.9 1385.1 3120.8C1386.6 3118.6 1388.2 3116.4 1389.7 3114.2C1391.2 3112.0 1392.7 3109.9 1394.2 3107.7C1395.7 3105.5 1397.2 3103.3 1398.7 3101.1C1400.2 3098.9 1401.7 3096.7 1403.2 3094.5C1404.7 3092.3 1406.2 3090.0 1407.7 3087.8C1409.2 3085.6 1410.7 3083.4 1412.1 3081.2C1413.6 3078.9 1415.1 3076.7 1416.6 3074.5C1418.0 3072.2 1419.5 3070.0 1421.0 3067.7C1422.4 3065.5 1423.9 3063.3 1425.4 3061.0C1426.8 3058.8 1428.3 3056.5 1429.7 3054.3C1431.2 3052.0 1432.6 3049.7 1434.1 3047.5C1435.6 3045.2 1437.0 3043.0 1438.5 3040.7C1439.9 3038.4 1441.4 3036.2 1442.8 3033.9C1444.3 3031.7 1445.7 3029.4 1447.2 3027.1C1448.6 3024.9 1450.1 3022.6 1451.5 3020.3C1453.0 3018.1 1454.4 3015.8 1455.9 3013.5C1457.3 3011.2 1458.8 3009.0 1460.2 3006.7C1461.7 3004.4 1463.1 3002.2 1464.6 2999.9C1466.0 2997.6 1467.5 2995.4 1468.9 2993.1C1470.4 2990.8 1471.9 2988.6 1473.3 2986.3C1474.8 2984.0 1476.2 2981.8 1477.7 2979.5C1479.2 2977.3 1480.6 2975.0 1482.1 2972.7C1483.6 2970.5 1485.0 2968.2 1486.5 2966.0C1488.0 2963.7 1489.4 2961.5 1490.9 2959.2C1492.4 2957.0 1493.9 2954.7 1495.4 2952.5C1496.8 2950.2 1498.3 2948.0 1499.8 2945.8C1501.3 2943.5 1502.8 2941.3 1504.3 2939.1C1505.8 2936.8 1507.3 2934.6 1508.8 2932.4C1510.3 2930.2 1511.8 2928.0 1513.3 2925.8C1514.9 2923.5 1516.4 2921.3 1517.9 2919.1C1519.4 2916.9 1521.0 2914.7 1522.5 2912.6C1524.0 2910.4 1525.6 2908.2 1527.1 2906.0C1528.7 2903.8 1530.2 2901.7 1531.8 2899.5C1533.3 2897.3 1534.9 2895.2 1536.5 2893.0C1538.0 2890.9 1539.6 2888.7 1541.2 2886.6C1542.8 2884.4 1544.4 2882.3 1545.9 2880.1C1547.5 2878.0 1549.1 2875.9 1550.7 2873.7C1552.3 2871.6 1553.9 2869.5 1555.5 2867.4C1557.1 2865.2 1558.7 2863.1 1560.3 2861.0C1562.0 2858.9 1563.6 2856.8 1565.2 2854.6C1566.8 2852.5 1568.4 2850.4 1570.0 2848.3C1571.6 2846.2 1573.3 2844.1 1574.9 2841.9C1576.5 2839.8 1578.1 2837.7 1579.8 2835.6C1581.4 2833.5 1583.0 2831.4 1584.6 2829.2C1586.3 2827.1 1587.9 2825.0 1589.5 2822.9C1591.1 2820.7 1592.8 2818.6 1594.4 2816.5C1596.0 2814.4 1597.6 2812.2 1599.3 2810.1C1600.9 2807.9 1602.5 2805.8 1604.1 2803.6C1605.8 2801.5 1607.4 2799.3 1609.0 2797.2C1610.6 2795.0 1612.2 2792.9 1613.8 2790.7C1615.4 2788.5 1617.0 2786.3 1618.7 2784.2C1620.3 2782.0 1621.9 2779.8 1623.5 2777.6C1625.1 2775.4 1626.7 2773.3 1628.3 2771.1C1629.9 2768.9 1631.6 2766.7 1633.2 2764.5C1634.8 2762.4 1636.5 2760.2 1638.1 2758.0C1639.7 2755.9 1641.4 2753.7 1643.0 2751.6C1644.7 2749.4 1646.4 2747.3 1648.1 2745.2C1649.8 2743.0 1651.4 2740.9 1653.2 2738.8C1654.9 2736.7 1656.6 2734.7 1658.3 2732.6C1660.1 2730.5 1661.9 2728.5 1663.6 2726.5C1665.4 2724.4 1667.2 2722.4 1669.0 2720.5C1670.9 2718.5 1672.7 2716.5 1674.6 2714.6C1676.5 2712.7 1678.3 2710.8 1680.3 2708.9C1682.2 2707.0 1684.1 2705.2 1686.1 2703.4C1688.1 2701.5 1690.1 2699.8 1692.1 2698.0C1694.1 2696.3 1696.2 2694.5 1698.3 2692.9C1700.4 2691.2 1702.5 2689.5 1704.7 2687.9C1706.8 2686.3 1709.0 2684.8 1711.3 2683.3C1713.5 2681.8 1715.7 2680.3 1718.0 2678.9C1720.3 2677.4 1722.6 2676.1 1724.9 2674.8C1727.3 2673.5 1729.6 2672.2 1732.0 2671.0C1734.4 2669.8 1736.8 2668.7 1739.2 2667.6C1741.6 2666.5 1744.0 2665.5 1746.5 2664.6C1748.9 2663.7 1751.4 2662.8 1753.9 2662.0C1756.4 2661.2 1758.9 2660.5 1761.4 2659.9C1763.9 2659.3 1766.4 2658.7 1768.9 2658.3C1771.5 2657.8 1774.0 2657.4 1776.5 2657.2C1779.1 2656.9 1781.6 2656.7 1784.2 2656.6C1786.8 2656.5 1789.3 2656.5 1791.9 2656.6C1794.4 2656.7 1797.0 2656.9 1799.6 2657.2C1802.1 2657.5 1804.7 2658.0 1807.2 2658.5C1809.8 2659.0 1812.4 2659.6 1814.9 2660.3C1817.5 2661.0 1820.0 2661.7 1822.6 2662.6C1825.1 2663.4 1827.7 2664.3 1830.2 2665.3C1832.7 2666.3 1835.3 2667.3 1837.8 2668.4C1840.3 2669.5 1842.8 2670.6 1845.4 2671.8C1847.9 2672.9 1850.4 2674.2 1852.9 2675.4C1855.4 2676.6 1857.9 2677.9 1860.4 2679.1C1862.8 2680.4 1865.3 2681.7 1867.8 2683.0C1870.2 2684.3 1872.7 2685.5 1875.1 2686.8C1877.6 2688.1 1880.0 2689.4 1882.4 2690.7C1884.9 2692.0 1887.3 2693.2 1889.7 2694.5C1892.1 2695.8 1894.5 2697.1 1896.9 2698.4C1899.3 2699.6 1901.7 2700.9 1904.0 2702.2C1906.4 2703.5 1908.8 2704.8 1911.2 2706.0C1913.5 2707.3 1915.9 2708.6 1918.3 2709.9C1920.6 2711.2 1923.0 2712.5 1925.3 2713.8C1927.6 2715.1 1930.0 2716.5 1932.3 2717.8C1934.6 2719.1 1936.9 2720.5 1939.2 2721.8C1941.5 2723.2 1943.8 2724.5 1946.1 2725.9C1948.4 2727.3 1950.6 2728.7 1952.9 2730.1C1955.1 2731.5 1957.4 2732.9 1959.6 2734.3C1961.8 2735.8 1964.0 2737.2 1966.2 2738.7C1968.4 2740.2 1970.6 2741.7 1972.8 2743.2C1974.9 2744.7 1977.1 2746.2 1979.2 2747.8C1981.3 2749.4 1983.4 2750.9 1985.5 2752.6C1987.6 2754.2 1989.7 2755.8 1991.7 2757.5C1993.8 2759.1 1995.8 2760.8 1997.8 2762.5C1999.8 2764.3 2001.8 2766.0 2003.8 2767.8C2005.7 2769.6 2007.7 2771.4 2009.6 2773.2C2011.5 2775.1 2013.4 2777.0 2015.3 2778.9C2017.1 2780.8 2019.0 2782.7 2020.8 2784.7C2022.6 2786.7 2024.4 2788.7 2026.2 2790.8C2027.9 2792.9 2029.7 2795.0 2031.4 2797.1C2033.1 2799.3 2034.8 2801.5 2036.4 2803.7C2038.1 2805.9 2039.7 2808.2 2041.3 2810.5C2042.9 2812.8 2045.2 2816.4 2046.0 2817.6" fill="none" stroke="#8000e0" stroke-width="11.4" stroke-linejoin="round" clip-path="url(#cb)"/>
<g class="s" font-size="88.8" text-anchor="middle">
<text x="794.7" y="3479">300</text>
<text x="1107.1" y="3479">325</text>
<text x="1419.6" y="3479">350</text>
<text x="1732.0" y="3479">375</text>
<text x="2044.4" y="3479">400</text>
</g>
<text class="s" font-size="85.5" x="176.5" y="1952.8">6.0 x 10<tspan font-size="49" dy="-41" dx="4.3">3</tspan></text>
<text class="s" font-size="85.5" x="172.6" y="2416.2">4.0 x 10<tspan font-size="49" dy="-41" dx="4.3">3</tspan></text>
<text class="s" font-size="85.5" x="178.5" y="2921.2">2.0 x 10<tspan font-size="49" dy="-41" dx="4.3">3</tspan></text>
<text class="s" font-size="85.5" x="433.5" y="3368">0</text>
<text class="s" font-size="105.3" text-anchor="middle" x="1293.7" y="3578.3">Wavelength [nm]</text>
<text class="s" font-size="104.5" text-anchor="middle" transform="translate(115.2 2555.8) rotate(-90)">Intensity [a.u.]</text>
<text class="t" font-size="67" x="588" y="1984.5">(b)</text>
<rect x="725.6" y="1904.3" width="1138.8" height="254.3" fill="#fff" stroke="#3a3a3a" stroke-width="2.2"/>
<text class="t" font-size="82.7" x="789.3" y="1998">excitation spectra for sample</text>
<text class="t" font-size="82.7" x="915.9" y="2101.6">with 0.005 mol% TiO<tspan font-size="49.6" dy="28">2</tspan></text>
<path d="M585 2256.5H779.3" stroke="#8000e0" stroke-width="11.2" stroke-linecap="round"/>
<path d="M1335.6 2247.4H1530.1" stroke="#ff7000" stroke-width="11.2" stroke-linecap="round"/>
<text font-family="Liberation Serif, Times New Roman, Times, serif" font-weight="normal" font-size="81.8" stroke="#000" stroke-width="1.3" transform="translate(800.1 2285.1) scale(1.09 1)">λ</text><text class="sb" font-size="52.3" x="846.3" y="2313.7">em</text><text class="sb" font-size="85.3" x="922.9" y="2285.1">= 440 nm</text>
<text font-family="Liberation Serif, Times New Roman, Times, serif" font-weight="normal" font-size="81.8" stroke="#000" stroke-width="1.3" transform="translate(1550.9 2277.5) scale(1.09 1)">λ</text><text class="sb" font-size="52.3" x="1597.1" y="2306.1">em</text><text class="sb" font-size="85.3" x="1673.7" y="2277.5">= 530 nm</text>
<rect x="1083.8" y="2393.6" width="325.7" height="268.8" fill="#c6c6c6"/><path d="M1083.8 2662.4L1103.3 2642.9L1390.0 2642.9L1390.0 2413.1L1409.5 2393.6L1409.5 2662.4Z" fill="#404040"/><rect x="1103.3" y="2413.1" width="286.7" height="229.8" fill="#e0e0e0"/><rect x="1083.8" y="2393.6" width="325.7" height="268.8" fill="none" stroke="#9a9a9a" stroke-width="1.2"/>
<text class="t nk" font-size="152.0" x="1128.1" y="2590.2">Ti</text><text class="t" font-size="91.2" x="1268.9" y="2514.8">3</text><text font-family="Liberation Serif, Times New Roman, Times, serif" font-weight="normal" font-size="105.6" x="1313.7" y="2521.3">+</text>
<rect x="619.0" y="2927.0" width="276.4" height="229.6" fill="#c6c6c6"/><path d="M619.0 3156.6L638.5 3137.1L875.9 3137.1L875.9 2946.5L895.4 2927.0L895.4 3156.6Z" fill="#404040"/><rect x="638.5" y="2946.5" width="237.4" height="190.6" fill="#e0e0e0"/><rect x="619.0" y="2927.0" width="276.4" height="229.6" fill="none" stroke="#9a9a9a" stroke-width="1.2"/>
<text class="t nk" font-size="126.0" x="659.6" y="3093.6">Ti</text><text class="t" font-size="75.6" x="776.3" y="3031.1">4</text><text font-family="Liberation Serif, Times New Roman, Times, serif" font-weight="normal" font-size="87.6" x="813.4" y="3036.5">+</text>
<path d="M819.8 2673.7L974.0 2594.9" stroke="#000" stroke-width="11.8" stroke-linecap="round"/><path d="M1019.9 2571.4L975.3 2610.5L962.1 2584.7Z" fill="#000" stroke="#000" stroke-width="9.0" stroke-linejoin="round"/>
<path d="M1717.9 2644.3L1508.5 2581.6" stroke="#000" stroke-width="11.8" stroke-linecap="round"/><path d="M1459.1 2566.9L1518.4 2569.5L1510.0 2597.3Z" fill="#000" stroke="#000" stroke-width="9.0" stroke-linejoin="round"/>
</svg></body></html>
